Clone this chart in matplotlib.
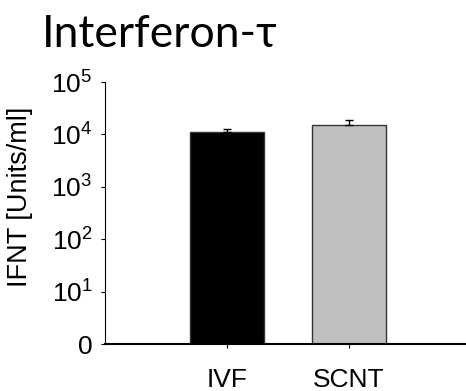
import matplotlib
matplotlib.use("Agg")
import matplotlib.pyplot as plt
import numpy as np

plt.rcParams['font.family'] = ['Liberation Sans', 'DejaVu Sans']
plt.rcParams['mathtext.fontset'] = 'custom'
plt.rcParams['mathtext.rm'] = 'Liberation Sans'
plt.rcParams['mathtext.it'] = 'Liberation Sans:italic'

# data
groups = ['IVF', 'SCNT']
ifnt = [11100, 15300]
ifnt_err = [1500, 3400]
bar_colors = ['black', '#c0c0c0']

ytick_vals = [1, 10, 100, 1000, 10000, 100000]
ytick_labels = [r'$0\ \ \,$', r'$10^1$', r'$10^2$', r'$10^3$', r'$10^4$', r'$10^5$']

fig = plt.figure(figsize=(4.66, 3.91), dpi=100)
ax = fig.add_axes([105 / 466, 47 / 391, 366 / 466, 262 / 391])

x = np.arange(1, len(groups) + 1)
ax.bar(x, ifnt, width=0.6, color=bar_colors, edgecolor='#333333', linewidth=1, zorder=2)
ax.errorbar(x, ifnt, yerr=[np.zeros(len(ifnt)), ifnt_err], fmt='none',
            ecolor='black', elinewidth=1, capsize=3, capthick=1, zorder=3)

ax.set_yscale('log')
ax.set_ylim(1, 1e5)
ax.set_xlim(0, 3)
ax.set_yticks(ytick_vals)
ax.set_yticklabels(ytick_labels)
ax.minorticks_off()
ax.set_xticks(x)
ax.set_xticklabels(groups)

ax.tick_params(axis='y', labelsize=19, length=3, width=0.8, pad=6)
ax.tick_params(axis='x', labelsize=19, length=3, width=0.8, pad=14)

for s in ['top', 'right']:
    ax.spines[s].set_visible(False)
ax.spines['left'].set_linewidth(0.8)
ax.spines['bottom'].set_linewidth(1.5)

ax.set_ylabel('IFNT [Units/ml]', fontsize=19.5)
ax.yaxis.set_label_coords(-0.197, 0.56)

fig.text(42 / 466, 1 - 47 / 391, 'Interferon-\u03c4', fontsize=32,
         family=['Lato', 'DejaVu Sans'], ha='left', va='baseline')

fig.savefig('out.png', dpi=100)
